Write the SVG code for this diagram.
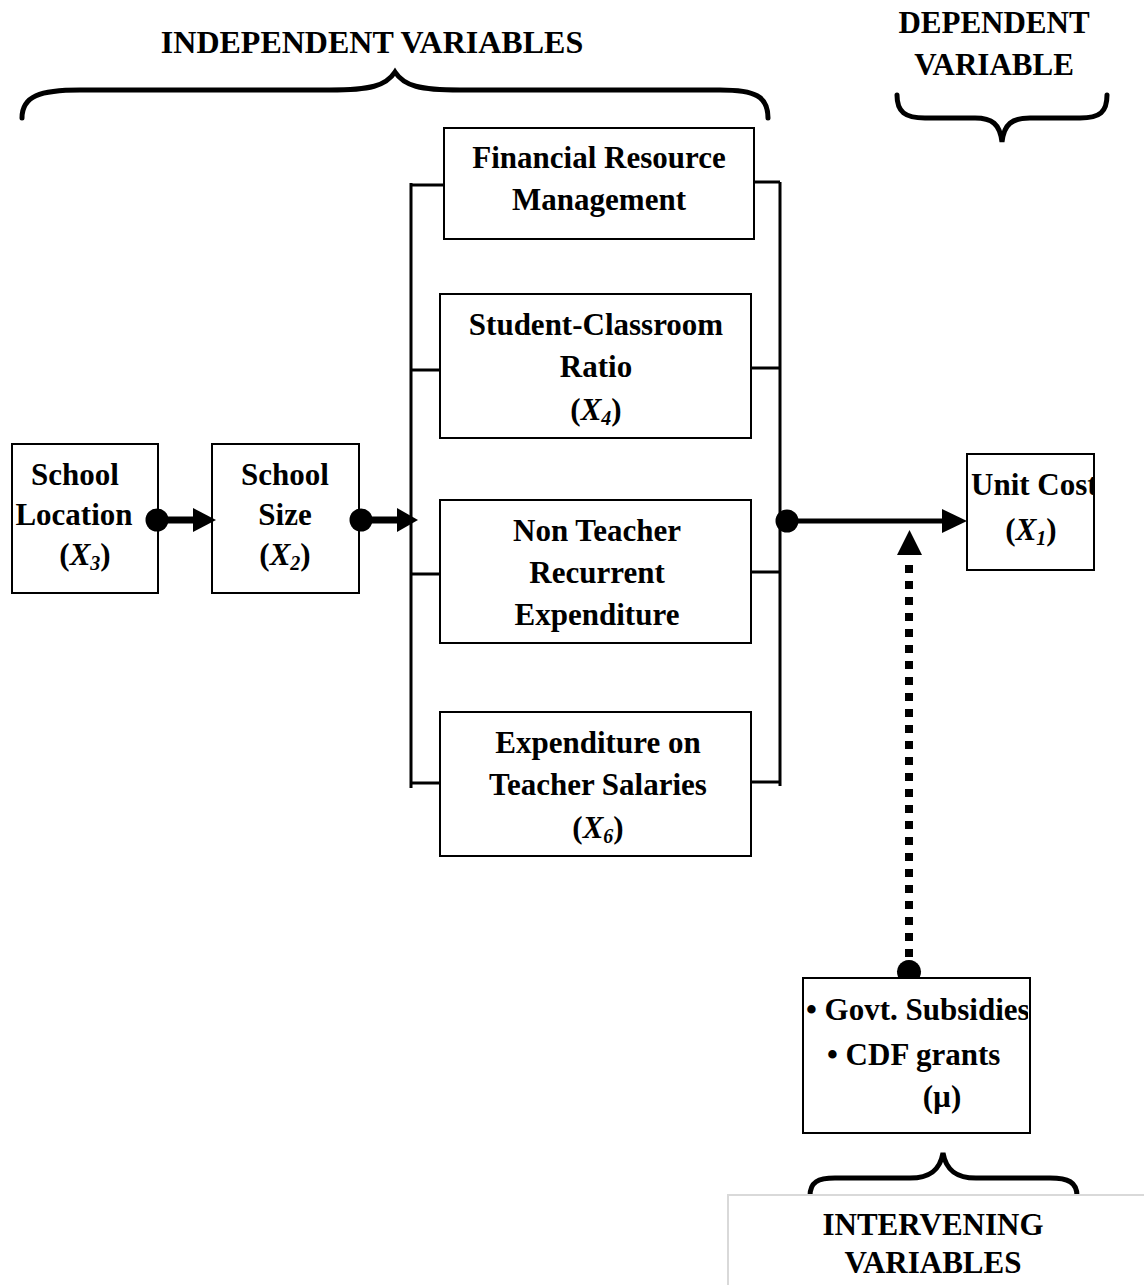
<svg xmlns="http://www.w3.org/2000/svg" width="1144" height="1285" viewBox="0 0 1144 1285">
<style>
text{font-family:"Liberation Serif","Times New Roman",serif;font-weight:bold;font-size:31px;fill:#000}
.c{text-anchor:middle}
.box{fill:#fff;stroke:#000;stroke-width:2}
.brace{fill:none;stroke:#000;stroke-width:5;stroke-linecap:round}
.bus{stroke:#000;stroke-width:3;fill:none}
.i{font-style:italic}
.s{font-style:italic;font-size:20px}
</style>
<defs>
<clipPath id="clipUnit"><rect x="967" y="454" width="126" height="116"/></clipPath>
<clipPath id="clipGovt"><rect x="803" y="978" width="225" height="155"/></clipPath>
</defs>
<rect width="1144" height="1285" fill="#fff"/>

<g id="label-independent">
<text class="c" x="372" y="53" style="font-size:32px">INDEPENDENT VARIABLES</text>
<path class="brace" d="M22,118 C22,96 40,90 80,90 L330,90 C370,90 386,86 395,72 C404,86 420,90 460,90 L720,90 C755,90 768,96 768,118"/>
</g>
<g id="label-dependent">
<text class="c" x="994" y="33">DEPENDENT</text>
<text class="c" x="994" y="75">VARIABLE</text>
<path class="brace" d="M897,95 C897,112 905,118 925,118 L975,118 C992,118 1000,124 1002,142 C1004,124 1012,118 1030,118 L1080,118 C1100,118 1107,112 1107,95"/>
</g>

<g id="node-location">
<rect class="box" x="12" y="444" width="146" height="149"/>
<text class="c" x="75" y="485">School</text>
<text class="c" x="74" y="525">Location</text>
<text class="c" x="85" y="565">(<tspan class="i">X</tspan><tspan class="s" dy="5">3</tspan><tspan dy="-5">)</tspan></text>
</g>
<g id="node-size">
<rect class="box" x="212" y="444" width="147" height="149"/>
<text class="c" x="285" y="485">School</text>
<text class="c" x="285" y="525">Size</text>
<text class="c" x="285" y="565">(<tspan class="i">X</tspan><tspan class="s" dy="5">2</tspan><tspan dy="-5">)</tspan></text>
</g>
<g id="node-financial">
<rect class="box" x="444" y="128" width="310" height="111"/>
<text class="c" x="599" y="168">Financial Resource</text>
<text class="c" x="599" y="210">Management</text>
</g>
<g id="node-ratio">
<rect class="box" x="440" y="294" width="311" height="144"/>
<text class="c" x="596" y="335">Student-Classroom</text>
<text class="c" x="596" y="377">Ratio</text>
<text class="c" x="596" y="420">(<tspan class="i">X</tspan><tspan class="s" dy="5">4</tspan><tspan dy="-5">)</tspan></text>
</g>
<g id="node-nonteacher">
<rect class="box" x="440" y="500" width="311" height="143"/>
<text class="c" x="597" y="541">Non Teacher</text>
<text class="c" x="597" y="583">Recurrent</text>
<text class="c" x="597" y="625">Expenditure</text>
</g>
<g id="node-salaries">
<rect class="box" x="440" y="712" width="311" height="144"/>
<text class="c" x="598" y="753">Expenditure on</text>
<text class="c" x="598" y="795">Teacher Salaries</text>
<text class="c" x="598" y="838">(<tspan class="i">X</tspan><tspan class="s" dy="5">6</tspan><tspan dy="-5">)</tspan></text>
</g>
<g id="node-unitcost">
<rect class="box" x="967" y="454" width="127" height="116"/>
<g clip-path="url(#clipUnit)">
<text x="971" y="495">Unit Cost</text>
</g>
<text class="c" x="1031" y="540">(<tspan class="i">X</tspan><tspan class="s" dy="5">1</tspan><tspan dy="-5">)</tspan></text>
</g>
<g id="node-intervening">
<rect class="box" x="803" y="978" width="227" height="155"/>
<g clip-path="url(#clipGovt)">
<text x="806" y="1020">• Govt. Subsidies</text>
</g>
<text x="827" y="1065">• CDF grants</text>
<text class="c" x="942" y="1107">(µ)</text>
</g>
<g id="label-intervening">
<path class="brace" d="M810,1196 C810,1182 818,1178 835,1178 L910,1178 C930,1178 940,1170 943,1153 C946,1170 956,1178 976,1178 L1050,1178 C1068,1178 1077,1182 1077,1196"/>
<rect x="728" y="1195" width="430" height="100" fill="#fff" stroke="#d9d9d9" stroke-width="2"/>
<text class="c" x="933" y="1235">INTERVENING</text>
<text class="c" x="933" y="1273">VARIABLES</text>
</g>

<g id="connectors">
<path class="bus" d="M411,183 L411,788 M411,185 L444,185 M411,370 L440,370 M411,574 L440,574 M411,783 L440,783"/>
<path class="bus" d="M780,182 L780,786 M754,182 L780,182 M751,368 L780,368 M751,572 L780,572 M751,782 L780,782"/>
<circle cx="157" cy="520" r="11.5"/>
<line x1="157" y1="520" x2="196" y2="520" stroke="#000" stroke-width="7"/>
<polygon points="193,508 216,520 193,532"/>
<circle cx="361" cy="520" r="11.5"/>
<line x1="361" y1="520" x2="400" y2="520" stroke="#000" stroke-width="7"/>
<polygon points="397,508 418,520 397,532"/>
<circle cx="787" cy="521" r="11.5"/>
<line x1="787" y1="521" x2="945" y2="521" stroke="#000" stroke-width="5"/>
<polygon points="942,509 967,521 942,533"/>
<polygon points="897,555 909.5,530 922,555"/>
<line x1="909" y1="565" x2="909" y2="965" stroke="#000" stroke-width="8" stroke-dasharray="8 8"/>
<path d="M898.1,977 A12,12 0 1 1 919.9,977 Z"/>
</g>
</svg>
